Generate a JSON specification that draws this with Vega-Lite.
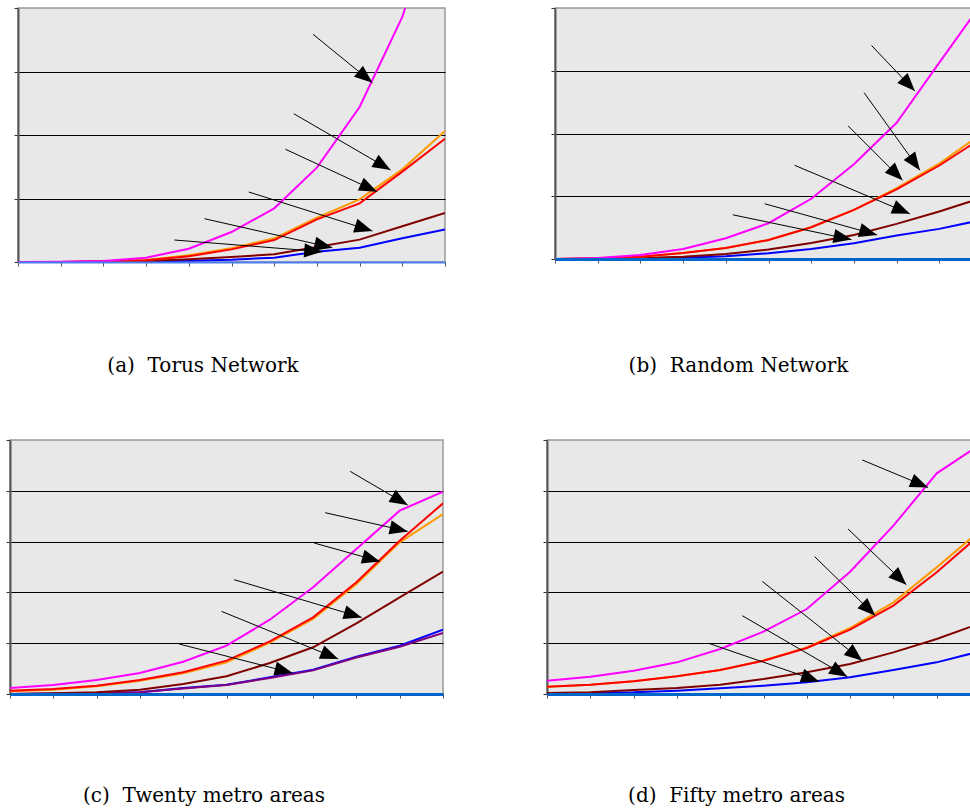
{
"$schema": "https://vega.github.io/schema/vega-lite/v6.json",
"padding": {"left": 0, "top": 6, "right": 0, "bottom": 0},
"background": "white",
"config": {
  "view": {"fill": "#e8e8e8", "stroke": "#999999", "strokeWidth": 1.5},
  "title": {"font": "DejaVu Serif", "fontSize": 20, "fontWeight": "normal", "color": "#000000", "orient": "bottom", "anchor": "middle", "baseline": "alphabetic"},
  "line": {"strokeWidth": 2, "clip": true}
},
"datasets": {
"L": [
{"p":"a","s":"s1","i":0,"v":0},{"p":"a","s":"s1","i":1,"v":0},{"p":"a","s":"s1","i":2,"v":0},{"p":"a","s":"s1","i":3,"v":0.005},{"p":"a","s":"s1","i":4,"v":0.021},{"p":"a","s":"s1","i":5,"v":0.037},{"p":"a","s":"s1","i":6,"v":0.068},{"p":"a","s":"s1","i":7,"v":0.163},{"p":"a","s":"s1","i":8,"v":0.226},{"p":"a","s":"s1","i":9,"v":0.373},{"p":"a","s":"s1","i":10,"v":0.514},
{"p":"a","s":"s3","i":0,"v":0},{"p":"a","s":"s3","i":1,"v":0},{"p":"a","s":"s3","i":2,"v":0.005},{"p":"a","s":"s3","i":3,"v":0.016},{"p":"a","s":"s3","i":4,"v":0.042},{"p":"a","s":"s3","i":5,"v":0.079},{"p":"a","s":"s3","i":6,"v":0.121},{"p":"a","s":"s3","i":7,"v":0.236},{"p":"a","s":"s3","i":8,"v":0.352},{"p":"a","s":"s3","i":9,"v":0.562},{"p":"a","s":"s3","i":10,"v":0.772},
{"p":"a","s":"s4","i":0,"v":0},{"p":"a","s":"s4","i":1,"v":0},{"p":"a","s":"s4","i":2,"v":0.01},{"p":"a","s":"s4","i":3,"v":0.031},{"p":"a","s":"s4","i":4,"v":0.105},{"p":"a","s":"s4","i":5,"v":0.215},{"p":"a","s":"s4","i":6,"v":0.373},{"p":"a","s":"s4","i":7,"v":0.698},{"p":"a","s":"s4","i":8,"v":0.987},{"p":"a","s":"s4","i":9,"v":1.459},{"p":"a","s":"s4","i":10,"v":2.063},
{"p":"a","s":"s5","i":0,"v":0},{"p":"a","s":"s5","i":1,"v":0},{"p":"a","s":"s5","i":2,"v":0.01},{"p":"a","s":"s5","i":3,"v":0.026},{"p":"a","s":"s5","i":4,"v":0.089},{"p":"a","s":"s5","i":5,"v":0.199},{"p":"a","s":"s5","i":6,"v":0.346},{"p":"a","s":"s5","i":7,"v":0.672},{"p":"a","s":"s5","i":8,"v":0.924},{"p":"a","s":"s5","i":9,"v":1.423},{"p":"a","s":"s5","i":10,"v":1.942},
{"p":"a","s":"s6","i":0,"v":0},{"p":"a","s":"s6","i":1,"v":0.005},{"p":"a","s":"s6","i":2,"v":0.016},{"p":"a","s":"s6","i":3,"v":0.068},{"p":"a","s":"s6","i":4,"v":0.21},{"p":"a","s":"s6","i":5,"v":0.472},{"p":"a","s":"s6","i":6,"v":0.845},{"p":"a","s":"s6","i":7,"v":1.486},{"p":"a","s":"s6","i":8,"v":2.441},{"p":"a","s":"s6","i":9,"v":3.86},{"p":"a","s":"s6","i":10,"v":5.9},
{"p":"b","s":"s1","i":0,"v":0},{"p":"b","s":"s1","i":1,"v":0},{"p":"b","s":"s1","i":2,"v":0.01},{"p":"b","s":"s1","i":3,"v":0.021},{"p":"b","s":"s1","i":4,"v":0.043},{"p":"b","s":"s1","i":5,"v":0.091},{"p":"b","s":"s1","i":6,"v":0.16},{"p":"b","s":"s1","i":7,"v":0.25},{"p":"b","s":"s1","i":8,"v":0.373},{"p":"b","s":"s1","i":9,"v":0.48},{"p":"b","s":"s1","i":10,"v":0.624},
{"p":"b","s":"s3","i":0,"v":0},{"p":"b","s":"s3","i":1,"v":0.005},{"p":"b","s":"s3","i":2,"v":0.016},{"p":"b","s":"s3","i":3,"v":0.037},{"p":"b","s":"s3","i":4,"v":0.08},{"p":"b","s":"s3","i":5,"v":0.15},{"p":"b","s":"s3","i":6,"v":0.256},{"p":"b","s":"s3","i":7,"v":0.384},{"p":"b","s":"s3","i":8,"v":0.56},{"p":"b","s":"s3","i":9,"v":0.757},{"p":"b","s":"s3","i":10,"v":0.976},
{"p":"b","s":"s4","i":0,"v":0},{"p":"b","s":"s4","i":1,"v":0.011},{"p":"b","s":"s4","i":2,"v":0.037},{"p":"b","s":"s4","i":3,"v":0.096},{"p":"b","s":"s4","i":4,"v":0.176},{"p":"b","s":"s4","i":5,"v":0.304},{"p":"b","s":"s4","i":6,"v":0.507},{"p":"b","s":"s4","i":7,"v":0.784},{"p":"b","s":"s4","i":8,"v":1.13},{"p":"b","s":"s4","i":9,"v":1.52},{"p":"b","s":"s4","i":10,"v":2.0},
{"p":"b","s":"s5","i":0,"v":0},{"p":"b","s":"s5","i":1,"v":0.011},{"p":"b","s":"s5","i":2,"v":0.037},{"p":"b","s":"s5","i":3,"v":0.096},{"p":"b","s":"s5","i":4,"v":0.176},{"p":"b","s":"s5","i":5,"v":0.304},{"p":"b","s":"s5","i":6,"v":0.507},{"p":"b","s":"s5","i":7,"v":0.784},{"p":"b","s":"s5","i":8,"v":1.11},{"p":"b","s":"s5","i":9,"v":1.49},{"p":"b","s":"s5","i":10,"v":1.93},
{"p":"b","s":"s6","i":0,"v":0},{"p":"b","s":"s6","i":1,"v":0.016},{"p":"b","s":"s6","i":2,"v":0.064},{"p":"b","s":"s6","i":3,"v":0.16},{"p":"b","s":"s6","i":4,"v":0.33},{"p":"b","s":"s6","i":5,"v":0.57},{"p":"b","s":"s6","i":6,"v":0.96},{"p":"b","s":"s6","i":7,"v":1.51},{"p":"b","s":"s6","i":8,"v":2.17},{"p":"b","s":"s6","i":9,"v":3.13},{"p":"b","s":"s6","i":10,"v":4.08},
{"p":"c","s":"s1","i":0,"v":0},{"p":"c","s":"s1","i":1,"v":0.007},{"p":"c","s":"s1","i":2,"v":0.013},{"p":"c","s":"s1","i":3,"v":0.033},{"p":"c","s":"s1","i":4,"v":0.118},{"p":"c","s":"s1","i":5,"v":0.184},{"p":"c","s":"s1","i":6,"v":0.328},{"p":"c","s":"s1","i":7,"v":0.479},{"p":"c","s":"s1","i":8,"v":0.735},{"p":"c","s":"s1","i":9,"v":0.951},{"p":"c","s":"s1","i":10,"v":1.266},
{"p":"c","s":"s2","i":0,"v":0},{"p":"c","s":"s2","i":1,"v":0.007},{"p":"c","s":"s2","i":2,"v":0.013},{"p":"c","s":"s2","i":3,"v":0.033},{"p":"c","s":"s2","i":4,"v":0.11},{"p":"c","s":"s2","i":5,"v":0.175},{"p":"c","s":"s2","i":6,"v":0.315},{"p":"c","s":"s2","i":7,"v":0.465},{"p":"c","s":"s2","i":8,"v":0.72},{"p":"c","s":"s2","i":9,"v":0.93},{"p":"c","s":"s2","i":10,"v":1.2},
{"p":"c","s":"s3","i":0,"v":0},{"p":"c","s":"s3","i":1,"v":0.013},{"p":"c","s":"s3","i":2,"v":0.033},{"p":"c","s":"s3","i":3,"v":0.085},{"p":"c","s":"s3","i":4,"v":0.197},{"p":"c","s":"s3","i":5,"v":0.348},{"p":"c","s":"s3","i":6,"v":0.61},{"p":"c","s":"s3","i":7,"v":0.919},{"p":"c","s":"s3","i":8,"v":1.391},{"p":"c","s":"s3","i":9,"v":1.903},{"p":"c","s":"s3","i":10,"v":2.408},
{"p":"c","s":"s4","i":0,"v":0.052},{"p":"c","s":"s4","i":1,"v":0.085},{"p":"c","s":"s4","i":2,"v":0.151},{"p":"c","s":"s4","i":3,"v":0.262},{"p":"c","s":"s4","i":4,"v":0.407},{"p":"c","s":"s4","i":5,"v":0.623},{"p":"c","s":"s4","i":6,"v":1.01},{"p":"c","s":"s4","i":7,"v":1.476},{"p":"c","s":"s4","i":8,"v":2.165},{"p":"c","s":"s4","i":9,"v":2.986},{"p":"c","s":"s4","i":10,"v":3.543},
{"p":"c","s":"s5","i":0,"v":0.066},{"p":"c","s":"s5","i":1,"v":0.098},{"p":"c","s":"s5","i":2,"v":0.164},{"p":"c","s":"s5","i":3,"v":0.276},{"p":"c","s":"s5","i":4,"v":0.427},{"p":"c","s":"s5","i":5,"v":0.656},{"p":"c","s":"s5","i":6,"v":1.037},{"p":"c","s":"s5","i":7,"v":1.509},{"p":"c","s":"s5","i":8,"v":2.198},{"p":"c","s":"s5","i":9,"v":3.018},{"p":"c","s":"s5","i":10,"v":3.753},
{"p":"c","s":"s6","i":0,"v":0.118},{"p":"c","s":"s6","i":1,"v":0.177},{"p":"c","s":"s6","i":2,"v":0.276},{"p":"c","s":"s6","i":3,"v":0.413},{"p":"c","s":"s6","i":4,"v":0.636},{"p":"c","s":"s6","i":5,"v":0.951},{"p":"c","s":"s6","i":6,"v":1.463},{"p":"c","s":"s6","i":7,"v":2.1},{"p":"c","s":"s6","i":8,"v":2.854},{"p":"c","s":"s6","i":9,"v":3.609},{"p":"c","s":"s6","i":10,"v":3.983},
{"p":"d","s":"s1","i":0,"v":0.013},{"p":"d","s":"s1","i":1,"v":0.02},{"p":"d","s":"s1","i":2,"v":0.033},{"p":"d","s":"s1","i":3,"v":0.066},{"p":"d","s":"s1","i":4,"v":0.112},{"p":"d","s":"s1","i":5,"v":0.164},{"p":"d","s":"s1","i":6,"v":0.23},{"p":"d","s":"s1","i":7,"v":0.328},{"p":"d","s":"s1","i":8,"v":0.472},{"p":"d","s":"s1","i":9,"v":0.623},{"p":"d","s":"s1","i":10,"v":0.84},
{"p":"d","s":"s3","i":0,"v":0.02},{"p":"d","s":"s3","i":1,"v":0.033},{"p":"d","s":"s3","i":2,"v":0.079},{"p":"d","s":"s3","i":3,"v":0.118},{"p":"d","s":"s3","i":4,"v":0.184},{"p":"d","s":"s3","i":5,"v":0.295},{"p":"d","s":"s3","i":6,"v":0.427},{"p":"d","s":"s3","i":7,"v":0.591},{"p":"d","s":"s3","i":8,"v":0.82},{"p":"d","s":"s3","i":9,"v":1.083},{"p":"d","s":"s3","i":10,"v":1.391},
{"p":"d","s":"s4","i":0,"v":0.144},{"p":"d","s":"s4","i":1,"v":0.184},{"p":"d","s":"s4","i":2,"v":0.249},{"p":"d","s":"s4","i":3,"v":0.348},{"p":"d","s":"s4","i":4,"v":0.472},{"p":"d","s":"s4","i":5,"v":0.66},{"p":"d","s":"s4","i":6,"v":0.915},{"p":"d","s":"s4","i":7,"v":1.299},{"p":"d","s":"s4","i":8,"v":1.804},{"p":"d","s":"s4","i":9,"v":2.493},{"p":"d","s":"s4","i":10,"v":3.215},
{"p":"d","s":"s5","i":0,"v":0.144},{"p":"d","s":"s5","i":1,"v":0.184},{"p":"d","s":"s5","i":2,"v":0.249},{"p":"d","s":"s5","i":3,"v":0.348},{"p":"d","s":"s5","i":4,"v":0.472},{"p":"d","s":"s5","i":5,"v":0.656},{"p":"d","s":"s5","i":6,"v":0.906},{"p":"d","s":"s5","i":7,"v":1.266},{"p":"d","s":"s5","i":8,"v":1.739},{"p":"d","s":"s5","i":9,"v":2.395},{"p":"d","s":"s5","i":10,"v":3.136},
{"p":"d","s":"s6","i":0,"v":0.262},{"p":"d","s":"s6","i":1,"v":0.341},{"p":"d","s":"s6","i":2,"v":0.459},{"p":"d","s":"s6","i":3,"v":0.623},{"p":"d","s":"s6","i":4,"v":0.886},{"p":"d","s":"s6","i":5,"v":1.227},{"p":"d","s":"s6","i":6,"v":1.673},{"p":"d","s":"s6","i":7,"v":2.408},{"p":"d","s":"s6","i":8,"v":3.314},{"p":"d","s":"s6","i":9,"v":4.344},{"p":"d","s":"s6","i":10,"v":4.908}
],
"A": [
{"p":"a","x1":6.91,"y1":3.586,"x2":8.3,"y2":2.824},
{"p":"a","x1":6.46,"y1":2.335,"x2":8.725,"y2":1.449},
{"p":"a","x1":6.265,"y1":1.775,"x2":8.41,"y2":1.107},
{"p":"a","x1":5.405,"y1":1.102,"x2":8.3,"y2":0.488},
{"p":"a","x1":4.367,"y1":0.682,"x2":7.36,"y2":0.225},
{"p":"a","x1":3.664,"y1":0.346,"x2":7.125,"y2":0.162},
{"p":"b","x1":7.413,"y1":3.402,"x2":8.428,"y2":2.677},
{"p":"b","x1":7.239,"y1":2.65,"x2":8.546,"y2":1.413},
{"p":"b","x1":6.864,"y1":2.122,"x2":8.14,"y2":1.253},
{"p":"b","x1":5.613,"y1":1.493,"x2":8.311,"y2":0.72},
{"p":"b","x1":4.91,"y1":0.88,"x2":7.544,"y2":0.384},
{"p":"b","x1":4.166,"y1":0.704,"x2":6.943,"y2":0.309},
{"p":"c","x1":7.858,"y1":4.382,"x2":9.184,"y2":3.72},
{"p":"c","x1":7.28,"y1":3.569,"x2":9.184,"y2":3.201},
{"p":"c","x1":7.026,"y1":2.972,"x2":8.544,"y2":2.61},
{"p":"c","x1":5.177,"y1":2.25,"x2":8.121,"y2":1.508},
{"p":"c","x1":4.886,"y1":1.626,"x2":7.58,"y2":0.689},
{"p":"c","x1":3.906,"y1":0.984,"x2":6.526,"y2":0.413},
{"p":"d","x1":7.282,"y1":4.606,"x2":8.799,"y2":4.067},
{"p":"d","x1":6.952,"y1":3.248,"x2":8.298,"y2":2.152},
{"p":"d","x1":6.182,"y1":2.703,"x2":7.582,"y2":1.541},
{"p":"d","x1":4.972,"y1":2.217,"x2":7.282,"y2":0.656},
{"p":"d","x1":4.51,"y1":1.541,"x2":6.935,"y2":0.341},
{"p":"d","x1":3.741,"y1":0.996,"x2":6.282,"y2":0.248}
]
},
"spacing": 61,
"vconcat": [
{"spacing": 0, "hconcat": [
 {"width": 1, "height": 1, "view": {"fill": null, "stroke": null}, "data": {"values": [{}]}, "mark": {"type": "point", "opacity": 0, "size": 1, "strokeWidth": 0}, "encoding": {}},
 {"width": 427, "height": 254,
  "title": {"text": "(a)\u00a0\u00a0Torus Network", "offset": 89, "dx": -28.5},
  "layer": [
   {"data": {"name": "L"}, "transform": [{"filter": "datum.p == 'a'"}],
    "mark": {"type": "line", "clip": true, "strokeWidth": 2},
    "encoding": {
     "x": {"field": "i", "type": "quantitative", "scale": {"domain": [0, 10], "nice": false, "zero": false},
       "axis": {"title": null, "labels": false, "values": [0,1,2,3,4,5,6,7,8,9,10], "tickSize": 4, "tickColor": "#555555", "tickWidth": 1, "domainColor": "#4a7df0", "domainWidth": 2, "grid": false, "zindex": 1, "minExtent": 0, "maxExtent": 8}},
     "y": {"field": "v", "type": "quantitative", "scale": {"domain": [0, 4], "nice": false},
       "axis": {"title": null, "labels": false, "values": [0,1,2,3,4], "tickSize": 4, "tickColor": "#333333", "tickWidth": 1, "domainColor": "#555555", "domainWidth": 2, "grid": true, "gridColor": "#000000", "gridWidth": 1, "gridOpacity": {"condition": {"test": "datum.value >= 4", "value": 0}, "value": 1}, "minExtent": 6, "maxExtent": 6}},
     "color": {"field": "s", "type": "nominal", "scale": {"domain": ["s1","s2","s3","s4","s5","s6"], "range": ["#0000ff","#800080","#800000","#ff9900","#ff0000","#ff00ff"]}, "legend": null}
    }},
   {"data": {"name": "A"}, "transform": [{"filter": "datum.p == 'a'"}],
    "mark": {"type": "rule", "color": "#000000", "strokeWidth": 1},
    "encoding": {"x": {"field": "x1", "type": "quantitative"}, "y": {"field": "y1", "type": "quantitative"}, "x2": {"field": "x2"}, "y2": {"field": "y2"}}},
   {"data": {"name": "A"}, "transform": [{"filter": "datum.p == 'a'"}, {"calculate": "atan2((datum.x2-datum.x1)*42.7,(datum.y2-datum.y1)*63.5)*180/PI", "as": "ang"}],
    "mark": {"type": "point", "shape": "M0,0L-0.95,2.4L0.95,2.4Z", "filled": true, "color": "#000000", "opacity": 1, "size": 225},
    "encoding": {"x": {"field": "x2", "type": "quantitative"}, "y": {"field": "y2", "type": "quantitative"}, "angle": {"field": "ang", "type": "quantitative", "scale": null}}}
  ]},
 {"width": 427, "height": 251,
  "title": {"text": "(b)\u00a0\u00a0Random Network", "offset": 92, "dx": -30},
  "layer": [
   {"data": {"name": "L"}, "transform": [{"filter": "datum.p == 'b'"}],
    "mark": {"type": "line", "clip": true, "strokeWidth": 2},
    "encoding": {
     "x": {"field": "i", "type": "quantitative", "scale": {"domain": [0, 10], "nice": false, "zero": false},
       "axis": {"title": null, "labels": false, "values": [0,1,2,3,4,5,6,7,8,9,10], "tickSize": 4, "tickColor": "#555555", "tickWidth": 1, "domainColor": "#0066cc", "domainWidth": 3, "grid": false, "zindex": 1, "minExtent": 0, "maxExtent": 8}},
     "y": {"field": "v", "type": "quantitative", "scale": {"domain": [0, 4], "nice": false},
       "axis": {"title": null, "labels": false, "values": [0,1,2,3,4], "tickSize": 4, "tickColor": "#333333", "tickWidth": 1, "domainColor": "#555555", "domainWidth": 2, "grid": true, "gridColor": "#000000", "gridWidth": 1, "gridOpacity": {"condition": {"test": "datum.value >= 4", "value": 0}, "value": 1}, "minExtent": 107, "maxExtent": 107}},
     "color": {"field": "s", "type": "nominal", "scale": {"domain": ["s1","s2","s3","s4","s5","s6"], "range": ["#0000ff","#800080","#800000","#ff9900","#ff0000","#ff00ff"]}, "legend": null}
    }},
   {"data": {"name": "A"}, "transform": [{"filter": "datum.p == 'b'"}],
    "mark": {"type": "rule", "color": "#000000", "strokeWidth": 1},
    "encoding": {"x": {"field": "x1", "type": "quantitative"}, "y": {"field": "y1", "type": "quantitative"}, "x2": {"field": "x2"}, "y2": {"field": "y2"}}},
   {"data": {"name": "A"}, "transform": [{"filter": "datum.p == 'b'"}, {"calculate": "atan2((datum.x2-datum.x1)*42.7,(datum.y2-datum.y1)*62.75)*180/PI", "as": "ang"}],
    "mark": {"type": "point", "shape": "M0,0L-0.95,2.4L0.95,2.4Z", "filled": true, "color": "#000000", "opacity": 1, "size": 225},
    "encoding": {"x": {"field": "x2", "type": "quantitative"}, "y": {"field": "y2", "type": "quantitative"}, "angle": {"field": "ang", "type": "quantitative", "scale": null}}}
  ]}
]},
{"spacing": 0, "hconcat": [
 {"width": 433, "height": 254,
  "title": {"text": "(c)\u00a0\u00a0Twenty metro areas", "offset": 87, "dx": -22.5},
  "layer": [
   {"data": {"name": "L"}, "transform": [{"filter": "datum.p == 'c'"}],
    "mark": {"type": "line", "clip": true, "strokeWidth": 2},
    "encoding": {
     "x": {"field": "i", "type": "quantitative", "scale": {"domain": [0, 10], "nice": false, "zero": false},
       "axis": {"title": null, "labels": false, "values": [0,1,2,3,4,5,6,7,8,9,10], "tickSize": 4, "tickColor": "#555555", "tickWidth": 1, "domainColor": "#0066cc", "domainWidth": 3, "grid": false, "zindex": 1, "minExtent": 0, "maxExtent": 8}},
     "y": {"field": "v", "type": "quantitative", "scale": {"domain": [0, 5], "nice": false},
       "axis": {"title": null, "labels": false, "values": [0,1,2,3,4,5], "tickSize": 4, "tickColor": "#333333", "tickWidth": 1, "domainColor": "#555555", "domainWidth": 2, "grid": true, "gridColor": "#000000", "gridWidth": 1, "gridOpacity": {"condition": {"test": "datum.value >= 5", "value": 0}, "value": 1}, "minExtent": 9, "maxExtent": 9}},
     "color": {"field": "s", "type": "nominal", "scale": {"domain": ["s1","s2","s3","s4","s5","s6"], "range": ["#0000ff","#800080","#800000","#ff9900","#ff0000","#ff00ff"]}, "legend": null}
    }},
   {"data": {"name": "A"}, "transform": [{"filter": "datum.p == 'c'"}],
    "mark": {"type": "rule", "color": "#000000", "strokeWidth": 1},
    "encoding": {"x": {"field": "x1", "type": "quantitative"}, "y": {"field": "y1", "type": "quantitative"}, "x2": {"field": "x2"}, "y2": {"field": "y2"}}},
   {"data": {"name": "A"}, "transform": [{"filter": "datum.p == 'c'"}, {"calculate": "atan2((datum.x2-datum.x1)*43.3,(datum.y2-datum.y1)*50.8)*180/PI", "as": "ang"}],
    "mark": {"type": "point", "shape": "M0,0L-0.95,2.4L0.95,2.4Z", "filled": true, "color": "#000000", "opacity": 1, "size": 225},
    "encoding": {"x": {"field": "x2", "type": "quantitative"}, "y": {"field": "y2", "type": "quantitative"}, "angle": {"field": "ang", "type": "quantitative", "scale": null}}}
  ]},
 {"width": 433, "height": 254,
  "title": {"text": "(d)\u00a0\u00a0Fifty metro areas", "offset": 87, "dx": -27},
  "layer": [
   {"data": {"name": "L"}, "transform": [{"filter": "datum.p == 'd'"}],
    "mark": {"type": "line", "clip": true, "strokeWidth": 2},
    "encoding": {
     "x": {"field": "i", "type": "quantitative", "scale": {"domain": [0, 10], "nice": false, "zero": false},
       "axis": {"title": null, "labels": false, "values": [0,1,2,3,4,5,6,7,8,9,10], "tickSize": 4, "tickColor": "#555555", "tickWidth": 1, "domainColor": "#0066cc", "domainWidth": 3, "grid": false, "zindex": 1, "minExtent": 0, "maxExtent": 8}},
     "y": {"field": "v", "type": "quantitative", "scale": {"domain": [0, 5], "nice": false},
       "axis": {"title": null, "labels": false, "values": [0,1,2,3,4,5], "tickSize": 4, "tickColor": "#333333", "tickWidth": 1, "domainColor": "#555555", "domainWidth": 2, "grid": true, "gridColor": "#000000", "gridWidth": 1, "gridOpacity": {"condition": {"test": "datum.value >= 5", "value": 0}, "value": 1}, "minExtent": 101, "maxExtent": 101}},
     "color": {"field": "s", "type": "nominal", "scale": {"domain": ["s1","s2","s3","s4","s5","s6"], "range": ["#0000ff","#800080","#800000","#ff9900","#ff0000","#ff00ff"]}, "legend": null}
    }},
   {"data": {"name": "A"}, "transform": [{"filter": "datum.p == 'd'"}],
    "mark": {"type": "rule", "color": "#000000", "strokeWidth": 1},
    "encoding": {"x": {"field": "x1", "type": "quantitative"}, "y": {"field": "y1", "type": "quantitative"}, "x2": {"field": "x2"}, "y2": {"field": "y2"}}},
   {"data": {"name": "A"}, "transform": [{"filter": "datum.p == 'd'"}, {"calculate": "atan2((datum.x2-datum.x1)*43.3,(datum.y2-datum.y1)*50.8)*180/PI", "as": "ang"}],
    "mark": {"type": "point", "shape": "M0,0L-0.95,2.4L0.95,2.4Z", "filled": true, "color": "#000000", "opacity": 1, "size": 225},
    "encoding": {"x": {"field": "x2", "type": "quantitative"}, "y": {"field": "y2", "type": "quantitative"}, "angle": {"field": "ang", "type": "quantitative", "scale": null}}}
  ]}
]}
]
}
